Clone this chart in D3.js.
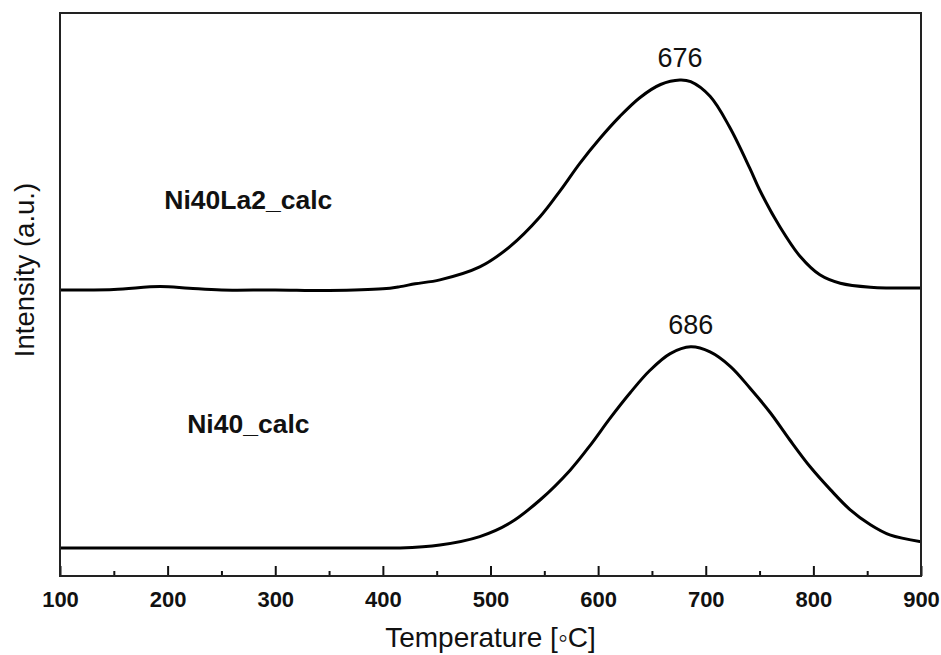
<!DOCTYPE html>
<html>
<head>
<meta charset="utf-8">
<script src="https://cdn.jsdelivr.net/npm/d3@7"></script>
<style>
  html, body { margin: 0; padding: 0; background: #fff; }
  svg { display: block; }
  text { font-family: Arial, "Liberation Sans", sans-serif; fill: #111; }
</style>
</head>
<body>
<svg id="chart" width="941" height="655"></svg>
<script>
// TPR profiles, intensity in arbitrary units (curves offset vertically)
const tempLa = [100, 150, 193, 220, 250, 300, 350, 400, 416, 430, 453, 490, 518, 546, 565, 583, 602, 620, 639, 658, 676, 686, 704, 722, 741, 750, 769, 788, 806, 825, 853, 900];
const intensityLa = [50.8, 50.9, 51.4, 51.1, 50.8, 50.8, 50.7, 51.0, 51.4, 51.9, 52.6, 54.9, 58.5, 63.8, 68.5, 73.3, 77.8, 81.6, 85.0, 87.3, 88.1, 87.8, 85.2, 79.8, 72.4, 68.6, 62.0, 56.7, 53.5, 52.0, 51.3, 51.15];

const tempNi = [100, 200, 300, 400, 416, 453, 490, 518, 546, 574, 593, 611, 630, 648, 667, 686, 704, 723, 741, 760, 778, 797, 816, 834, 853, 871, 900];
const intensityNi = [4.97, 4.97, 4.97, 4.97, 4.97, 5.5, 7.0, 9.4, 13.5, 18.8, 23.3, 28.0, 32.6, 36.5, 39.5, 40.7, 39.8, 37.2, 33.4, 29.0, 24.2, 19.4, 15.3, 11.8, 9.1, 7.3, 6.1];

const seriesNames = ["Ni40La2_calc", "Ni40_calc"];
const peakTemps = [676, 686];
const majorTicks = [100, 200, 300, 400, 500, 600, 700, 800, 900];
const minorTicks = [150, 250, 350, 450, 550, 650, 750, 850];

const svg = d3.select("#chart");
const margin = { left: 60, top: 13, right: 20, bottom: 79 };
const W = 941, H = 655;
const innerW = W - margin.left - margin.right;
const innerH = H - margin.top - margin.bottom;

const x = d3.scaleLinear().domain([100, 900]).range([margin.left, margin.left + innerW]);
const y = d3.scaleLinear().domain([0, 100]).range([margin.top + innerH, margin.top]);

const series = [
  { name: seriesNames[0], t: tempLa, v: intensityLa, peak: peakTemps[0], labelT: 275, labelV: 65.2 },
  { name: seriesNames[1], t: tempNi, v: intensityNi, peak: peakTemps[1], labelT: 275, labelV: 25.45 }
];

const line = d3.line()
  .x(d => x(d[0]))
  .y(d => y(d[1]))
  .curve(d3.curveCatmullRom.alpha(0.5));

// curves
series.forEach(s => {
  const pts = s.t.map((t, i) => [t, s.v[i]]);
  svg.append("path")
    .datum(pts)
    .attr("d", line)
    .attr("fill", "none")
    .attr("stroke", "#000")
    .attr("stroke-width", 3)
    .attr("stroke-linejoin", "round");

  // peak temperature label
  const pv = s.v[s.t.indexOf(s.peak)];
  svg.append("text")
    .attr("x", x(s.peak))
    .attr("y", y(pv) - 13)
    .attr("text-anchor", "middle")
    .attr("font-size", 27)
    .text(s.peak);

  // sample name
  svg.append("text")
    .attr("x", x(s.labelT))
    .attr("y", y(s.labelV))
    .attr("text-anchor", "middle")
    .attr("font-size", 26.5)
    .attr("font-weight", "bold")
    .text(s.name);
});

// x axis: major and minor ticks pointing inward
const xMajor = d3.axisBottom(x).tickValues(majorTicks).tickSize(-10).tickPadding(15).tickFormat(d3.format("d"));
const gMaj = svg.append("g").attr("transform", `translate(0,${margin.top + innerH})`).call(xMajor);
gMaj.select(".domain").remove();
gMaj.selectAll(".tick line").attr("stroke", "#111").attr("stroke-width", 2);
gMaj.selectAll(".tick text")
  .attr("font-size", 22)
  .attr("font-weight", "bold")
  .attr("font-family", "Arial, 'Liberation Sans', sans-serif")
  .attr("fill", "#111")
  .attr("dy", "0.71em");

const xMinor = d3.axisBottom(x).tickValues(minorTicks).tickSize(-5).tickFormat("");
const gMin = svg.append("g").attr("transform", `translate(0,${margin.top + innerH})`).call(xMinor);
gMin.select(".domain").remove();
gMin.selectAll(".tick line").attr("stroke", "#111").attr("stroke-width", 2);

// frame
svg.append("rect")
  .attr("x", margin.left)
  .attr("y", margin.top)
  .attr("width", innerW)
  .attr("height", innerH)
  .attr("fill", "none")
  .attr("stroke", "#222")
  .attr("stroke-width", 2);

// axis titles
svg.append("text")
  .attr("x", margin.left + innerW / 2)
  .attr("y", 647)
  .attr("text-anchor", "middle")
  .attr("font-size", 28)
  .text("Temperature [\u25E6C]");

svg.append("text")
  .attr("transform", "translate(34,270) rotate(-90)")
  .attr("text-anchor", "middle")
  .attr("font-size", 27.5)
  .text("Intensity (a.u.)");
</script>
</body>
</html>
